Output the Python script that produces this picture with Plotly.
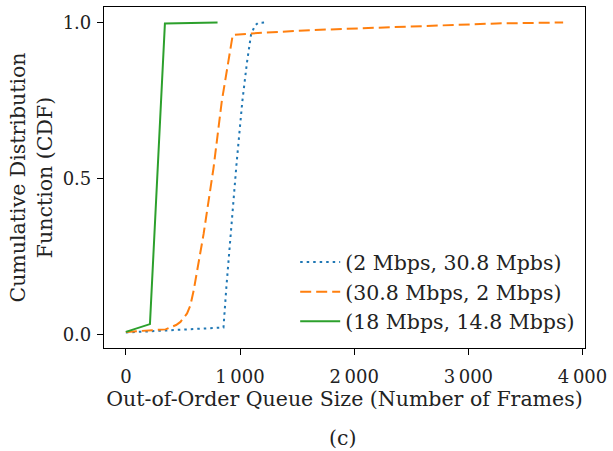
import plotly.graph_objects as go

# Data
blue_x = [0, 500, 855, 880, 918, 970, 1020, 1060, 1096, 1130, 1159, 1237]
blue_y = [0.006, 0.015, 0.022, 0.15, 0.322, 0.55, 0.747, 0.87, 0.96, 0.99, 0.999, 1.0]

orange_x = [0, 348, 440, 478, 536, 565, 594, 681, 768, 840, 936, 1100, 1652, 2377, 3247, 3830]
orange_y = [0.008, 0.016, 0.03, 0.04, 0.067, 0.093, 0.141, 0.322, 0.534, 0.747, 0.96, 0.965, 0.976, 0.986, 0.997, 1.0]

green_x = [0, 211, 342, 803]
green_y = [0.008, 0.033, 0.997, 1.0]

names = ["(2 Mbps, 30.8 Mpbs)", "(30.8 Mbps, 2 Mbps)", "(18 Mbps, 14.8 Mbps)"]

x_tickvals = [0, 1000, 2000, 3000, 4000]
x_ticktext = ["0", "1\u2009000", "2\u2009000", "3\u2009000", "4\u2009000"]
y_tickvals = [0.0, 0.5, 1.0]
y_ticktext = ["0.0", "0.5", "1.0"]

FONT = "DejaVu Serif"
FS = 20.5
TFS = 18

fig = go.Figure()
fig.add_trace(go.Scatter(x=blue_x, y=blue_y, mode="lines", name=names[0],
                         line=dict(color="#1f77b4", width=2, dash="2.5px,4px")))
fig.add_trace(go.Scatter(x=orange_x, y=orange_y, mode="lines", name=names[1],
                         line=dict(color="#ff7f0e", width=2, dash="11px,5px")))
fig.add_trace(go.Scatter(x=green_x, y=green_y, mode="lines", name=names[2],
                         line=dict(color="#2ca02c", width=2)))

axis_common = dict(showline=True, mirror=True, linecolor="black", linewidth=1.2,
                   ticks="outside", ticklen=6, tickwidth=1.2, tickcolor="black",
                   showgrid=False, zeroline=False, ticklabeloverflow="allow",
                   tickfont=dict(family=FONT, size=TFS, color="#222"))

fig.update_layout(
    width=613, height=451,
    margin=dict(l=104, r=23, t=6, b=103),
    paper_bgcolor="white", plot_bgcolor="white",
    font=dict(family=FONT, size=FS, color="#222"),
    xaxis=dict(range=[-191.5, 4021.5], tickvals=x_tickvals, ticktext=x_ticktext,
               ticklabelstandoff=6,
               title=dict(text="Out-of-Order Queue Size (Number of Frames)",
                          font=dict(family=FONT, size=FS), standoff=0),
               **axis_common),
    yaxis=dict(range=[-0.0437, 1.0497], tickvals=y_tickvals, ticktext=y_ticktext,
               ticklabelstandoff=2,
               title=dict(text="Cumulative Distribution<br>Function (CDF)",
                          font=dict(family=FONT, size=FS), standoff=4),
               **axis_common),
    legend=dict(x=0.99, y=0.02, xanchor="right", yanchor="bottom",
                bgcolor="rgba(255,255,255,0)", borderwidth=0,
                font=dict(family=FONT, size=FS, color="#222"),
                tracegroupgap=0, itemwidth=40),
    annotations=[dict(text="(c)", xref="paper", yref="paper", x=0.496, y=-0.265,
                      xanchor="center", yanchor="middle", showarrow=False,
                      font=dict(family=FONT, size=FS, color="#222"))],
)

fig.write_html("out.html")
